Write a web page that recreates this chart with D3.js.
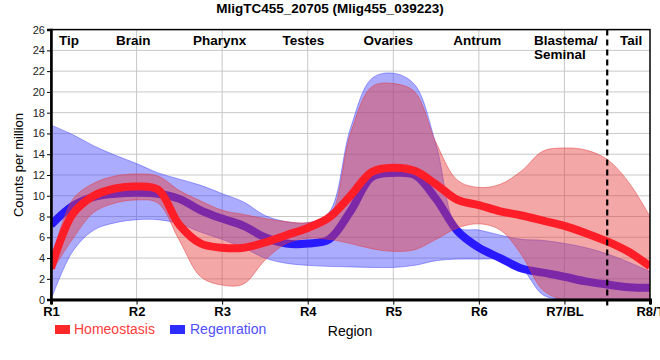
<!DOCTYPE html>
<html><head><meta charset="utf-8">
<script src="https://cdn.jsdelivr.net/npm/d3@7"></script>
<style>
body{margin:0;background:#fff;}
svg{display:block;}
.cond{font-family:"Liberation Sans Narrow","Arial Narrow","Liberation Sans",Arial,sans-serif;}
.reg{font-family:"Liberation Sans",Arial,sans-serif;}
</style></head>
<body><svg id="c" width="660" height="360"></svg>
<script>
// ---- data ----
const title = "MligTC455_20705 (Mlig455_039223)";
const regions = ["R1","R2","R3","R4","R5","R6","R7/BL","R8/T"];
const sections = ["Tip","Brain","Pharynx","Testes","Ovaries","Antrum","Blastema/|Seminal","Tail"];
const yTicks = [0,2,4,6,8,10,12,14,16,18,20,22,24,26];
// sample positions along the region axis (0 = R1 ... 7 = R8/T)
const pos = [0,0.25,0.5,0.75,1,1.25,1.5,1.75,2,2.25,2.5,2.75,3,3.25,3.5,3.75,4,4.25,4.5,4.75,5,5.25,5.5,5.75,6,6.25,6.5,6.75,7];
const homeoMean  = [3.0,8.2,10.0,10.7,10.9,10.6,7.2,5.4,5.0,5.0,5.5,6.2,6.9,7.9,10.0,12.3,12.7,12.4,11.1,9.6,9.1,8.5,8.1,7.6,7.1,6.4,5.6,4.6,3.2];
const homeoUpper = [3.6,9.6,11.2,11.9,12.1,11.9,10.5,9.5,8.6,8.2,7.8,7.5,7.4,7.9,16.0,20.5,20.8,20.0,15.1,11.5,10.8,11.1,12.4,14.3,14.6,14.4,13.5,11.3,8.0];
const homeoLower = [2.6,5.8,8.4,9.3,9.6,9.3,5.7,2.2,1.4,1.5,3.8,5.4,5.9,5.8,5.4,4.9,4.65,4.8,5.8,6.9,7.3,6.7,4.3,0.9,0,0,0,0,0];
const regenMean  = [7.2,9.0,9.9,10.2,10.3,10.2,9.7,8.6,7.8,7.1,6.0,5.4,5.4,5.8,8.5,11.8,12.2,12.0,9.7,6.6,5.0,4.0,3.0,2.6,2.2,1.75,1.45,1.2,1.15];
const regenUpper = [16.8,15.9,14.8,13.9,13.1,12.2,11.6,11.0,10.2,9.4,8.1,7.5,7.4,8.4,16.5,21.3,21.8,20.7,14.9,7.0,6.7,6.2,5.8,5.7,5.4,5.0,4.4,3.6,2.7];
const regenLower = [0,4.6,6.7,7.4,7.7,7.7,7.3,6.5,5.8,5.0,4.0,3.5,3.3,3.2,3.15,3.1,3.1,3.3,3.75,3.9,3.9,3.85,3.0,0.45,0,0,0,0,0];
const legendNames = ["Homeostasis","Regenration"];
const xTitle = "Region", yTitle = "Counts per million";

// ---- layout ----
const svg = d3.select("#c");
const L = 51, R = 650, T = 29.6, B = 299.6;
const x = d3.scaleLinear().domain([0,7]).range([L,R]);
const y = d3.scaleLinear().domain([0,26]).range([B,T]);

svg.append("defs").append("clipPath").attr("id","clip")
  .append("rect").attr("x",L).attr("y",T).attr("width",R-L).attr("height",B-T);

// grid
const g = svg.append("g");
g.selectAll(".hg").data(yTicks.slice(1)).join("line")
  .attr("x1",L).attr("x2",R).attr("y1",d=>y(d)).attr("y2",d=>y(d))
  .attr("stroke","#c8c8c8").attr("stroke-width",1);
g.selectAll(".vg").data(d3.range(1,7)).join("line")
  .attr("x1",d=>x(d)).attr("x2",d=>x(d)).attr("y1",T).attr("y2",B)
  .attr("stroke","#c8c8c8").attr("stroke-width",1);

const plot = svg.append("g").attr("clip-path","url(#clip)");
const curve = d3.curveCatmullRom.alpha(0.5);
function band(up, lo){
  return d3.area().curve(curve).x((d,i)=>x(pos[i])).y0((d,i)=>y(Math.max(0,lo[i]))).y1((d,i)=>y(up[i]))(pos);
}
function line(vals){
  return d3.line().curve(curve).x((d,i)=>x(pos[i])).y((d,i)=>y(vals[i]))(pos);
}
// regeneration band + line
plot.append("path").attr("d",band(regenUpper,regenLower))
  .attr("fill","rgb(70,70,255)").attr("fill-opacity",0.45)
  .attr("stroke","rgb(70,70,255)").attr("stroke-opacity",0.5).attr("stroke-width",1);
plot.append("path").attr("d",line(regenMean)).attr("fill","none")
  .attr("stroke","rgb(40,25,255)").attr("stroke-width",8);
// homeostasis band + line
plot.append("path").attr("d",band(homeoUpper,homeoLower))
  .attr("fill","rgb(228,60,60)").attr("fill-opacity",0.45)
  .attr("stroke","rgb(228,60,60)").attr("stroke-opacity",0.5).attr("stroke-width",1);
plot.append("path").attr("d",line(homeoMean)).attr("fill","none")
  .attr("stroke","rgb(255,30,40)").attr("stroke-width",8);

// dashed separator
svg.append("line").attr("x1",x(6.5)).attr("x2",x(6.5)).attr("y1",T).attr("y2",B+6)
  .attr("stroke","#000").attr("stroke-width",2.2).attr("stroke-dasharray","6,4");

// frame
svg.append("rect").attr("x",L).attr("y",T).attr("width",R-L).attr("height",B-T)
  .attr("fill","none").attr("stroke","#000").attr("stroke-width",1.5);

// axes
const ya = svg.append("g").attr("transform",`translate(${L},0)`)
  .call(d3.axisLeft(y).tickValues(yTicks).tickSize(4).tickPadding(2));
ya.select(".domain").attr("stroke-width",2.5);
ya.selectAll("text").attr("class","reg").attr("font-size",11).attr("fill","#222");
const xa = svg.append("g").attr("transform",`translate(0,${B})`)
  .call(d3.axisBottom(x).tickValues(d3.range(0,8)).tickFormat(i=>regions[i]).tickSize(5).tickPadding(2));
xa.select(".domain").attr("stroke-width",3);
xa.selectAll("text").attr("class","cond").attr("font-size",13).attr("font-weight","bold").attr("fill","#000");

// section labels
const secPos = [0.21,0.96,1.97,2.95,3.94,4.98,null,6.78];
sections.forEach((s,i)=>{
  if(s.includes("|")){
    const parts = s.split("|");
    const t = svg.append("text").attr("class","cond").attr("font-size",13.5).attr("font-weight","bold")
      .attr("x",534).attr("y",45);
    t.append("tspan").attr("x",534).attr("dy",0).text(parts[0]);
    t.append("tspan").attr("x",534).attr("dy",14).text(parts[1]);
  } else {
    svg.append("text").attr("class","cond").attr("font-size",13.5).attr("font-weight","bold")
      .attr("x",x(secPos[i])).attr("y",45).attr("text-anchor","middle").text(s);
  }
});

// title
svg.append("text").attr("class","cond").attr("x",330).attr("y",13).attr("text-anchor","middle")
  .attr("font-size",13.5).attr("font-weight","bold").text(title);

// axis titles
svg.append("text").attr("class","reg").attr("font-size",13)
  .attr("transform","translate(23,165) rotate(-90)").attr("text-anchor","middle").text(yTitle);
svg.append("text").attr("class","cond").attr("font-size",14).attr("x",350).attr("y",336)
  .attr("text-anchor","middle").text(xTitle);

// legend
const legCol = [["rgb(255,40,40)","#ff3c3c",55,74],["rgb(45,45,255)","#5050ff",170,190]];
legendNames.forEach((n,i)=>{
  const c = legCol[i];
  svg.append("rect").attr("x",c[2]).attr("y",325).attr("width",15).attr("height",9).attr("fill",c[0]);
  svg.append("text").attr("class","cond").attr("font-size",14).attr("x",c[3]).attr("y",334)
    .attr("fill",c[1]).text(n);
});
</script></body></html>
